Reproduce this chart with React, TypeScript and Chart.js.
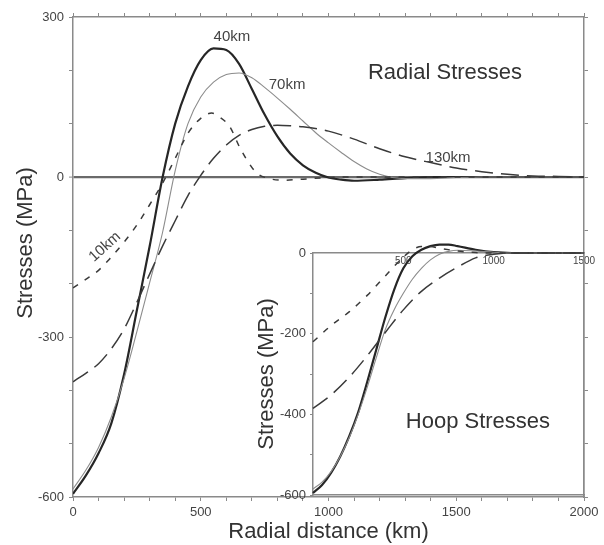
import React, { useEffect, useRef } from 'react';
import { Chart, registerables } from 'chart.js';

Chart.register(...registerables);

// ---------- Radial stresses (main panel): radial distance (km) vs stress (MPa)
const rad10X = [0, 50, 100, 150, 200, 250, 300, 350, 400, 450, 500, 543, 575, 614, 653, 690, 720, 760, 822, 900, 1000, 1100, 2000];
const rad10Y = [-208, -192, -175, -150, -122, -90, -52, -12, 35, 82, 110, 120, 112, 94, 55, 25, 7, -2, -6, -4, -1, 0, 0];

const rad40X = [0, 50, 100, 150, 200, 250, 300, 350, 400, 450, 500, 550, 600, 650, 700, 750, 800, 850, 900, 950, 1000, 1050, 1100, 1200, 1300, 1400, 2000];
const rad40Y = [-594, -560, -518, -462, -370, -250, -130, -2, 100, 170, 219, 241, 238, 212, 165, 117, 76, 44, 22, 8, -1, -5, -7, -5, -2, 0, 0];

const rad70X = [0, 50, 100, 150, 200, 250, 300, 350, 400, 450, 500, 550, 600, 650, 700, 750, 800, 850, 900, 950, 1000, 1050, 1100, 1150, 1200, 1250, 1300, 1400, 1500, 1600, 2000];
const rad70Y = [-585, -550, -507, -450, -378, -290, -198, -105, 12, 100, 150, 178, 192, 195, 186, 168, 148, 127, 105, 83, 64, 46, 29, 15, 5, -1, -3, -3, -1, 0, 0];

const rad130X = [0, 50, 100, 150, 200, 250, 300, 350, 400, 450, 500, 550, 600, 650, 700, 750, 800, 850, 900, 1000, 1100, 1200, 1300, 1400, 1500, 1600, 1700, 1800, 1900, 2000];
const rad130Y = [-384, -368, -350, -322, -285, -235, -182, -130, -82, -35, 3, 35, 60, 78, 89, 95, 97, 96, 94, 86, 71, 53, 38, 27, 17, 10, 5, 2, 1, 0];

// ---------- Hoop stresses (inset panel)
const hoop10X = [0, 100, 200, 300, 400, 500, 550, 600, 650, 700, 800, 900, 1000, 1500];
const hoop10Y = [-220, -180, -146, -105, -57, -10, 8, 16, 16, 12, 5, 1, 0, 0];

const hoop40X = [0, 50, 100, 150, 200, 250, 300, 350, 400, 450, 500, 550, 600, 650, 700, 750, 800, 900, 1000, 1100, 1500];
const hoop40Y = [-595, -575, -545, -505, -455, -395, -320, -240, -160, -90, -38, -8, 8, 17, 21, 21, 17, 8, 2, 0, 0];

const hoop70X = [0, 50, 100, 150, 200, 250, 300, 350, 400, 450, 500, 550, 600, 650, 700, 750, 800, 900, 1000, 1100, 1500];
const hoop70Y = [-585, -568, -542, -505, -458, -400, -333, -260, -190, -140, -100, -65, -38, -17, -3, 4, 7, 5, 2, 0, 0];

const hoop130X = [0, 100, 200, 300, 400, 500, 600, 700, 800, 900, 1000, 1100, 1500];
const hoop130Y = [-385, -352, -308, -255, -197, -141, -95, -62, -35, -12, -3, 0, 0];

// ---------- Tick labels
const mainXTickLabels = [0, 500, 1000, 1500, 2000];
const mainYTickLabels = [-600, -300, 0, 300];
const insetXTickLabels = [500, 1000, 1500];
const insetYTickLabels = [0, -200, -400, -600];

// ---------- Axis titles
const xTitle = 'Radial distance (km)';
const yTitle = 'Stresses (MPa)';

// ---------- Text annotations (in data coordinates)
const mainNotes = ['10km', '40km', '70km', '130km', 'Radial Stresses'];
const mainNoteX = [125, 622, 838, 1468, 1456];
const mainNoteY = [-131, 262, 172, 36, 195];
const mainNoteRot = [-42, 0, 0, 0, 0];
const mainNoteBig = [false, false, false, false, true];

const insetNotes = ['Hoop Stresses'];
const insetNoteX = [913];
const insetNoteY = [-419];

const FONT = '"Liberation Sans", Arial, Helvetica, sans-serif';
const AXIS = '#8a8a8a';
const TXT = '#333333';
const TICK = '#444444';
const BIG = 22;

const pts = (xs: number[], ys: number[]) => xs.map((x, i) => ({ x, y: ys[i] }));

const styles = {
  k10: { borderColor: '#3a3a3a', borderWidth: 1.5, borderDash: [6, 8] },
  k40: { borderColor: '#262626', borderWidth: 2.2, borderDash: [] },
  k70: { borderColor: '#8c8c8c', borderWidth: 1.1, borderDash: [] },
  k130: { borderColor: '#3a3a3a', borderWidth: 1.5, borderDash: [18, 8] },
};

const ds = (label: string, xs: number[], ys: number[], st: any, clip: any) => ({
  label,
  data: pts(xs, ys),
  ...st,
  pointRadius: 0,
  fill: false,
  cubicInterpolationMode: 'monotone',
  clip,
});

const notesPlugin = (id: string, texts: string[], xs: number[], ys: number[], rots: number[], big: boolean[]) => ({
  id,
  afterDatasetsDraw(chart: any) {
    const { ctx, scales } = chart;
    texts.forEach((t, i) => {
      const px = scales.x.getPixelForValue(xs[i]);
      const py = scales.y.getPixelForValue(ys[i]);
      ctx.save();
      ctx.translate(px, py);
      ctx.rotate((rots[i] * Math.PI) / 180);
      ctx.font = big[i] ? `${BIG}px ${FONT}` : `15px ${FONT}`;
      ctx.fillStyle = big[i] ? TXT : '#444444';
      ctx.textAlign = 'center';
      ctx.textBaseline = 'middle';
      ctx.fillText(t, 0, 0);
      ctx.restore();
    });
  },
});

// main panel y-axis title, centred slightly above the plot-area middle as in the figure
const mainYTitlePlugin = {
  id: 'mainYTitle',
  afterDraw(chart: any) {
    const { ctx, chartArea } = chart;
    ctx.save();
    ctx.translate(26, (chartArea.top + chartArea.bottom) / 2 - 14);
    ctx.rotate(-Math.PI / 2);
    ctx.font = `${BIG}px ${FONT}`;
    ctx.fillStyle = TXT;
    ctx.textAlign = 'center';
    ctx.textBaseline = 'middle';
    ctx.fillText(yTitle, 0, 0);
    ctx.restore();
  },
};

export default function App() {
  const mainRef = useRef<HTMLCanvasElement>(null);
  const insetRef = useRef<HTMLCanvasElement>(null);

  useEffect(() => {
    Chart.defaults.font.family = FONT;

    const main = new Chart(mainRef.current as HTMLCanvasElement, {
      type: 'line',
      data: {
        datasets: [
          ds('10km', rad10X, rad10Y, styles.k10, true),
          ds('130km', rad130X, rad130Y, styles.k130, true),
          ds('70km', rad70X, rad70Y, styles.k70, true),
          ds('40km', rad40X, rad40Y, styles.k40, true),
        ] as any,
      },
      options: {
        responsive: false,
        devicePixelRatio: 1,
        animation: false,
        layout: { padding: 0 },
        plugins: { legend: { display: false }, tooltip: { enabled: false } },
        scales: {
          x: {
            type: 'linear',
            position: 'bottom',
            min: 0,
            max: 2000,
            ticks: {
              stepSize: 100,
              autoSkip: false,
              maxRotation: 0,
              padding: 4,
              color: TICK,
              font: { size: 13 },
              callback: (v: any) => (mainXTickLabels.includes(Number(v)) ? String(v) : ''),
            },
            grid: { drawOnChartArea: false, drawTicks: true, tickLength: 4, tickColor: AXIS, tickWidth: 1 },
            border: { color: AXIS, width: 1.5 },
            title: { display: true, text: xTitle, color: TXT, font: { size: BIG }, padding: { top: 0, bottom: 0 } },
            afterFit: (s: any) => { s.height = 48; },
          },
          x2: {
            type: 'linear',
            position: 'top',
            min: 0,
            max: 2000,
            ticks: { stepSize: 100, autoSkip: false, display: false },
            grid: { drawOnChartArea: false, drawTicks: true, tickLength: 4, tickColor: AXIS, tickWidth: 1 },
            border: { color: AXIS, width: 1.5 },
            afterFit: (s: any) => { s.height = 17; },
          },
          y: {
            type: 'linear',
            position: 'left',
            min: -600,
            max: 300,
            ticks: {
              stepSize: 100,
              autoSkip: false,
              padding: 5,
              color: TICK,
              font: { size: 13 },
              callback: (v: any) => (mainYTickLabels.includes(Number(v)) ? String(v) : ''),
            },
            grid: {
              drawOnChartArea: true,
              drawTicks: true,
              tickLength: 4,
              tickColor: AXIS,
              tickWidth: 1,
              color: (c: any) => (c.tick && c.tick.value === 0 ? '#6a6a6a' : 'rgba(0,0,0,0)'),
              lineWidth: (c: any) => (c.tick && c.tick.value === 0 ? 2.2 : 1),
            },
            border: { color: AXIS, width: 1.5 },
            title: { display: false, text: yTitle },
            afterFit: (s: any) => { s.width = 73; },
          },
          y2: {
            type: 'linear',
            position: 'right',
            min: -600,
            max: 300,
            ticks: { stepSize: 100, autoSkip: false, display: false },
            grid: { drawOnChartArea: false, drawTicks: true, tickLength: 4, tickColor: AXIS, tickWidth: 1 },
            border: { color: AXIS, width: 1.5 },
            afterFit: (s: any) => { s.width = 20; },
          },
        },
      } as any,
      plugins: [notesPlugin('mainNotes', mainNotes, mainNoteX, mainNoteY, mainNoteRot, mainNoteBig), mainYTitlePlugin],
    });

    const inset = new Chart(insetRef.current as HTMLCanvasElement, {
      type: 'line',
      data: {
        datasets: [
          ds('10km', hoop10X, hoop10Y, styles.k10, false),
          ds('130km', hoop130X, hoop130Y, styles.k130, false),
          ds('70km', hoop70X, hoop70Y, styles.k70, false),
          ds('40km', hoop40X, hoop40Y, styles.k40, false),
        ] as any,
      },
      options: {
        responsive: false,
        devicePixelRatio: 1,
        animation: false,
        layout: { padding: { left: 250, top: 240, right: 20, bottom: 50 } },
        plugins: { legend: { display: false }, tooltip: { enabled: false } },
        scales: {
          x: {
            type: 'linear',
            position: 'top',
            min: 0,
            max: 1500,
            ticks: {
              stepSize: 500,
              autoSkip: false,
              maxRotation: 0,
              mirror: true,
              padding: 2,
              color: TICK,
              font: { size: 10 },
              callback: (v: any) => (insetXTickLabels.includes(Number(v)) ? String(v) : ''),
            },
            grid: { drawOnChartArea: false, drawTicks: false },
            border: { color: AXIS, width: 1.5 },
            afterFit: (s: any) => { s.height = 13; },
          },
          xb: {
            type: 'linear',
            position: 'bottom',
            min: 0,
            max: 1500,
            ticks: { display: false },
            grid: { drawOnChartArea: false, drawTicks: false },
            border: { color: AXIS, width: 1.5 },
            afterFit: (s: any) => { s.height = 0; },
          },
          y: {
            type: 'linear',
            position: 'left',
            min: -600,
            max: 0,
            ticks: {
              stepSize: 100,
              autoSkip: false,
              padding: 4,
              color: TICK,
              font: { size: 13 },
              callback: (v: any) => (insetYTickLabels.includes(Number(v)) ? String(v) : ''),
            },
            grid: { drawOnChartArea: false, drawTicks: true, tickLength: 3, tickColor: AXIS, tickWidth: 1 },
            border: { color: AXIS, width: 1.5 },
            title: { display: true, text: yTitle, color: TXT, font: { size: BIG }, padding: { top: 4, bottom: 0 } },
            afterFit: (s: any) => { s.width = 63; },
          },
          yr: {
            type: 'linear',
            position: 'right',
            min: -600,
            max: 0,
            ticks: { display: false },
            grid: { drawOnChartArea: false, drawTicks: false },
            border: { color: AXIS, width: 1.5 },
            afterFit: (s: any) => { s.width = 0; },
          },
        },
      } as any,
      plugins: [notesPlugin('insetNotes', insetNotes, insetNoteX, insetNoteY, [0], [true])],
    });

    return () => {
      main.destroy();
      inset.destroy();
    };
  }, []);

  return (
    <div style={{ position: 'fixed', left: 0, top: 0, width: 604, height: 545, background: '#ffffff' }}>
      <canvas ref={mainRef} width={604} height={545} style={{ position: 'absolute', left: 0, top: 0, width: 604, height: 545 }} />
      <canvas ref={insetRef} width={604} height={545} style={{ position: 'absolute', left: 0, top: 0, width: 604, height: 545 }} />
    </div>
  );
}
